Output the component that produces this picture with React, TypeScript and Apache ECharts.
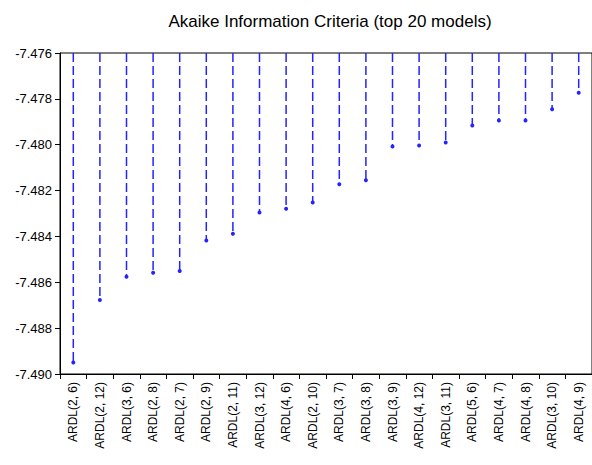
import React, { useEffect, useRef } from "react";
import * as echarts from "echarts";

const categories = [
  "ARDL(2, 6)", "ARDL(2, 12)", "ARDL(3, 6)", "ARDL(2, 8)", "ARDL(2, 7)",
  "ARDL(2, 9)", "ARDL(2, 11)", "ARDL(3, 12)", "ARDL(4, 6)", "ARDL(2, 10)",
  "ARDL(3, 7)", "ARDL(3, 8)", "ARDL(3, 9)", "ARDL(4, 12)", "ARDL(3, 11)",
  "ARDL(5, 6)", "ARDL(4, 7)", "ARDL(4, 8)", "ARDL(3, 10)", "ARDL(4, 9)",
];
const aicValues = [
  -7.48950, -7.48677, -7.48576, -7.48558, -7.48551,
  -7.48418, -7.48388, -7.48296, -7.48279, -7.48252,
  -7.48172, -7.48155, -7.48008, -7.48003, -7.47990,
  -7.47916, -7.47894, -7.47894, -7.47845, -7.47773,
];
const yMin = -7.490;
const yMax = -7.476;
const yStep = 0.002;
const baseline = -7.476;

export default function App() {
  const ref = useRef<HTMLDivElement>(null);
  useEffect(() => {
    if (!ref.current) return;
    const chart = echarts.init(ref.current, undefined, { renderer: "svg" });
    const font = "Liberation Sans, Arial, sans-serif";
    const blue = "#2424ff";
    chart.setOption({
      animation: false,
      title: {
        text: "Akaike Information Criteria (top 20 models)",
        left: 325,
        textAlign: "center",
        top: 8,
        textStyle: { fontSize: 17, fontWeight: "normal", color: "#000", fontFamily: font },
      },
      grid: {
        left: 60,
        top: 53,
        right: -2,
        bottom: 91,
        show: true,
        borderColor: "#000",
        borderWidth: 1,
      },
      xAxis: {
        type: "category",
        data: categories,
        boundaryGap: true,
        axisLine: { lineStyle: { color: "#000", width: 1 } },
        axisTick: { show: true, interval: 0, length: 5, lineStyle: { color: "#000" } },
        axisLabel: { interval: 0, rotate: 90, fontSize: 12, color: "#000", fontFamily: font, margin: 8 },
        splitLine: { show: false },
      },
      yAxis: {
        type: "value",
        min: yMin,
        max: yMax,
        interval: yStep,
        axisLine: { show: true, lineStyle: { color: "#000", width: 1 } },
        axisTick: { show: true, length: 5, lineStyle: { color: "#000" } },
        axisLabel: {
          fontSize: 13,
          color: "#000",
          fontFamily: font,
          margin: 8,
          formatter: (v: number) => v.toFixed(3),
        },
        splitLine: { show: false },
      },
      series: [
        {
          type: "custom",
          data: categories.map((c, i) => [i, aicValues[i]]),
          encode: { x: 0, y: 1 },
          renderItem: (params: any, api: any) => {
            const top = api.coord([api.value(0), baseline]);
            const end = api.coord([api.value(0), api.value(1)]);
            return {
              type: "group",
              children: [
                {
                  type: "line",
                  shape: { x1: top[0], y1: top[1], x2: end[0], y2: end[1] },
                  style: { stroke: blue, lineWidth: 1.5, lineDash: [9, 4] },
                },
                {
                  type: "circle",
                  shape: { cx: end[0], cy: end[1], r: 2 },
                  style: { fill: blue },
                },
              ],
            };
          },
        },
      ],
    });
    return () => chart.dispose();
  }, []);
  return (
    <div
      ref={ref}
      style={{ position: "absolute", left: 0, top: 0, width: 592, height: 465 }}
    />
  );
}
